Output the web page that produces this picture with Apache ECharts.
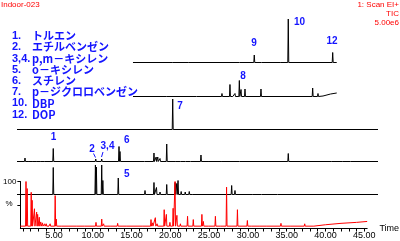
<!DOCTYPE html>
<html><head><meta charset="utf-8">
<script src="https://cdn.jsdelivr.net/npm/echarts@6/dist/echarts.min.js"></script>
<style>html,body{margin:0;padding:0;background:#fff}#c{width:400px;height:241px}</style>
</head><body><div id="c"></div>
<script>
// ---- axis ----
const T_MIN = 0.67, T_MAX = 45.37;
const timeTickLabels = [5, 10, 15, 20, 25, 30, 35, 40, 45];
const timeMinorTicks = [1,2,3,4,5,6,7,8,9,10,11,12,13,14,15,16,17,18,19,20,21,22,23,24,25,26,27,28,29,30,31,32,33,34,35,36,37,38,39,40,41,42,43,44,45];

// ---- legend ----
const compoundNums = ['1.', '2.', '3,4.', '5.', '6.', '7.', '10.', '12.'];
const compoundNames = ['トルエン', 'エチルベンゼン', 'p,m－キシレン', 'o－キシレン', 'スチレン', 'p－ジクロロベンゼン', 'DBP', 'DOP'];

// ---- traces: [retention time (min), relative intensity %] ----
const traceA_range = [15.03, 40.26];
const traceA_base = 0;
const traceA_peaks = [[19.95,3],[22.0,1],[25.0,1.5],[28.28,2],[30.05,15],[31.0,1.5],[33.32,3],[34.26,87],[39.76,20]];
const traceA_tail = [[40.26,0]];

const traceB_range = [15.03, 40.26];
const traceB_base = 0;
const traceB_peaks = [[19.21,4],[22.96,2],[26.05,6],[27.04,24],[27.45,4],[27.66,6],[28.20,32],[28.41,14],[28.90,15],[30.88,15],[37.28,17],[37.94,6]];
const traceB_tail = [[38.56,1],[39.5,5],[40.26,7]];

const traceC_range = [0.67, 45.37];
const traceC_base = 0;
const traceC_peaks = [[19.95,61]];
const traceC_tail = [[45.37,0]];

const traceD_range = [0.67, 45.37];
const traceD_base = 0;
const traceD_peaks = [[1.66,7],[2.1,2],[2.6,2],[3.1,2],[3.6,1.5],[4.1,2],[5.16,26],[10.42,5],[11.16,5],[13.30,30],[13.42,20],[16.52,3],[17.63,17],[17.9,9],[18.1,9],[18.38,6],[19.21,35],[19.8,3],[20.4,3],[21.0,3],[21.6,3],[22.2,2],[23.45,13],[24.5,2],[26.0,1.5],[28.3,2],[34.26,16],[39.64,2],[41.0,1.5],[42.0,1.5]];
const traceD_tail = [[45.37,0]];

const traceE_range = [0.67, 45.37];
const traceE_base = 0;
const traceE_peaks = [[5.16,54],[10.38,59],[10.50,55],[11.16,59],[11.30,28],[13.21,33],[16.52,8],[17.63,24],[17.94,14],[18.38,5],[19.21,20],[20.25,24],[20.45,22],[20.61,28],[21.0,6],[21.5,5],[22.0,6],[22.5,4],[27.25,18],[27.66,8],[29.93,4],[31.0,2],[33.0,2]];
const traceE_tail = [[45.37,0]];

const traceTIC_range = [0.67, 45.37];
const traceTIC_base = 5;
const traceTIC_peaks = [[1.40,100],[1.55,85],[2.07,77],[2.19,60],[2.49,42],[2.77,35],[2.90,30],[3.11,24],[3.30,14],[3.52,12],[3.80,10],[4.01,10],[4.30,8],[4.51,10],[5.16,70],[5.30,20],[6.0,8],[7.0,7],[8.0,7],[9.0,6],[10.42,13],[11.16,20],[11.40,10],[12.4,7],[13.21,11],[14.45,8],[16.52,8],[17.51,19],[17.70,12],[18.07,23],[18.30,10],[19.21,40],[19.49,30],[19.95,13],[20.36,43],[20.61,100],[20.85,28],[21.3,10],[22.22,26],[22.96,19],[23.5,9],[24.07,30],[24.26,15],[25.0,8],[25.81,26],[26.5,8],[27.25,88],[28.0,8],[28.65,40],[29.93,17],[30.5,8],[31.5,7],[32.5,7],[34.26,11],[35.5,7],[37.32,10]];
const traceTIC_tail = [[38.5,5],[40.0,8],[42.0,11],[44.0,13],[45.37,15]];

function build(range, base, peaks, tail) {
  const w = 0.06;
  const d = [[range[0], base]];
  peaks.forEach(function (p) { d.push([p[0] - w, base], [p[0], p[1]], [p[0] + w, base]); });
  tail.forEach(function (p) { d.push(p); });
  return d;
}

// grid layout: [baseline pixel, height for 100%]
const layout = [[62.5, 50], [96.5, 50], [129.5, 50], [161.5, 50], [194.5, 50], [228.5, 47]];
const H = 241;
const traces = [
  build(traceA_range, traceA_base, traceA_peaks, traceA_tail),
  build(traceB_range, traceB_base, traceB_peaks, traceB_tail),
  build(traceC_range, traceC_base, traceC_peaks, traceC_tail),
  build(traceD_range, traceD_base, traceD_peaks, traceD_tail),
  build(traceE_range, traceE_base, traceE_peaks, traceE_tail),
  build(traceTIC_range, traceTIC_base, traceTIC_peaks, traceTIC_tail)
];
const colors = ['#000', '#000', '#000', '#000', '#000', '#ff0000'];

const grids = [], xAxes = [], yAxes = [], series = [];
layout.forEach(function (l, i) {
  grids.push({ left: 17, right: 22, top: l[0] - l[1], bottom: H - l[0] });
  const isBottom = i === layout.length - 1;
  xAxes.push({
    type: 'value', gridIndex: i, min: T_MIN, max: T_MAX, show: isBottom,
    splitLine: { show: false },
    axisLine: { show: true, lineStyle: { color: '#000', width: 1 } },
    axisTick: { show: true, customValues: timeMinorTicks, length: 3, lineStyle: { color: '#000' } },
    axisLabel: { customValues: timeTickLabels, formatter: function (v) { return v.toFixed(2); }, fontSize: 9, color: '#000', margin: 3, fontFamily: 'Liberation Sans, Arial, sans-serif' },
    name: 'Time', nameLocation: 'end', nameGap: 5,
    nameTextStyle: { fontSize: 9, color: '#000', fontFamily: 'Liberation Sans, Arial, sans-serif' }
  });
  yAxes.push({
    type: 'value', gridIndex: i, min: 0, max: 100, show: isBottom,
    splitLine: { show: false },
    axisLine: { show: true, lineStyle: { color: '#000', width: 1 } },
    axisTick: { show: true, customValues: [50, 100], length: 3, lineStyle: { color: '#000' } },
    axisLabel: { customValues: [100], fontSize: 8, color: '#000', margin: 4, fontFamily: 'Liberation Sans, Arial, sans-serif' }
  });
  series.push({
    type: 'line', xAxisIndex: i, yAxisIndex: i, data: traces[i],
    showSymbol: false, symbol: 'none', animation: false, silent: true,
    lineStyle: { color: colors[i], width: 1 }
  });
});

const blue = '#1414ff';
const red = '#ff0000';
const graphics = [];
function txt(x, y, s, color, font, align) {
  graphics.push({ type: 'text', x: x, y: y, silent: true,
    style: { text: s, fill: color, font: font, textAlign: align || 'left', textVerticalAlign: 'middle' } });
}
// header
txt(1, 5, 'Indoor-023', red, '8px "Liberation Sans", Arial, sans-serif');
txt(399, 5, '1: Scan EI+', red, '8px "Liberation Sans", Arial, sans-serif', 'right');
txt(399, 14, 'TIC', red, '8px "Liberation Sans", Arial, sans-serif', 'right');
txt(399, 23, '5.00e6', red, '8px "Liberation Sans", Arial, sans-serif', 'right');
// legend
const legendY = [36, 47.3, 58.5, 69.7, 81, 92.2, 103.4, 114.6];
compoundNums.forEach(function (n, i) {
  txt(12, legendY[i], n, blue, 'bold 11px "Liberation Sans", Arial, sans-serif');
  txt(32, legendY[i], compoundNames[i], blue, 'bold 11px "Noto Sans CJK JP", sans-serif');
});
// peak labels
const peakLabels = [['10', 299.5, 22.7], ['9', 254, 43.3], ['12', 332, 41.7], ['8', 243, 76], ['7', 180, 106],
  ['1', 53.5, 137.3], ['2', 92, 149.3], ['3,4', 107.5, 146.7], ['6', 126.7, 140], ['5', 126.7, 174.3]];
peakLabels.forEach(function (p) { txt(p[1], p[2], p[0], blue, 'bold 10px "Liberation Sans", Arial, sans-serif', 'center'); });
graphics.push({ type: 'line', silent: true, shape: { x1: 93.5, y1: 153.5, x2: 95.5, y2: 157.5 }, style: { stroke: blue, lineWidth: 1 } });
graphics.push({ type: 'line', silent: true, shape: { x1: 103, y1: 152, x2: 101.5, y2: 157 }, style: { stroke: blue, lineWidth: 1 } });
// % label
txt(9, 204, '%', '#000', '8px "Liberation Sans", Arial, sans-serif', 'center');

const chart = echarts.init(document.getElementById('c'), null, { renderer: 'canvas' });
chart.setOption({
  animation: false,
  backgroundColor: '#fff',
  grid: grids, xAxis: xAxes, yAxis: yAxes, series: series,
  graphic: graphics
});
</script></body></html>
